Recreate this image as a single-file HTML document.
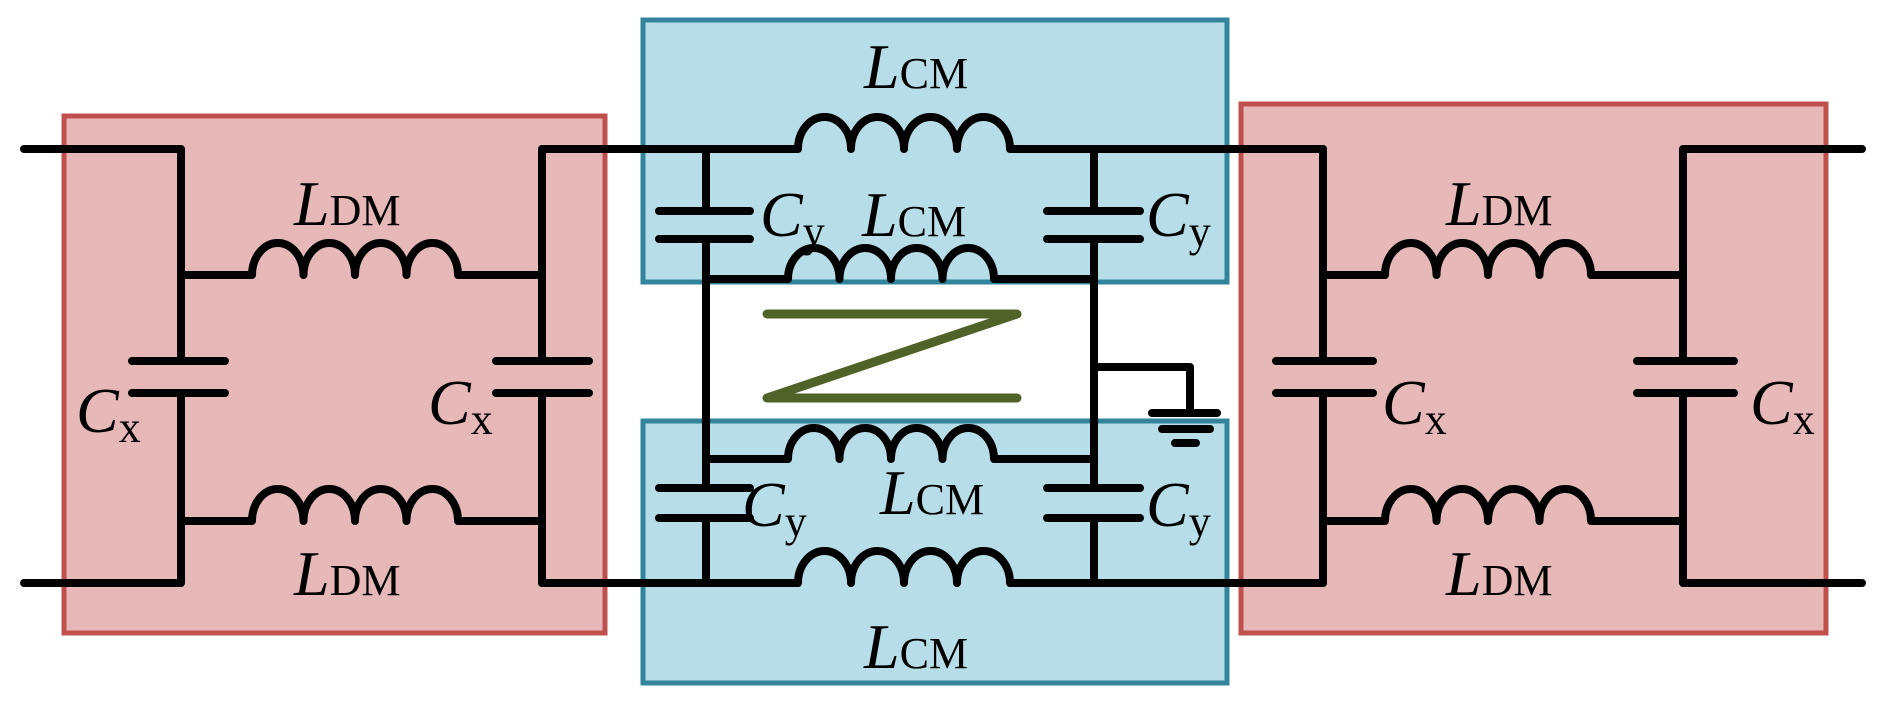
<!DOCTYPE html>
<html><head><meta charset="utf-8"><style>html,body{margin:0;padding:0;background:#fff;}svg{display:block}</style></head>
<body>
<svg width="1889" height="710" viewBox="0 0 1889 710" xmlns="http://www.w3.org/2000/svg">
<defs>
<style>
.w{stroke:#000;stroke-width:8;fill:none;stroke-linecap:round;stroke-linejoin:round}
.t{font-family:"Liberation Serif",serif;font-style:italic;font-size:64px;fill:#000}
.s{font-style:normal;font-size:44px}
</style>
</defs>
<rect x="64" y="116" width="541" height="517" fill="#e6b8b7" stroke="#c0504d" stroke-width="5"/>
<rect x="1241" y="104" width="585" height="529" fill="#e6b8b7" stroke="#c0504d" stroke-width="5"/>
<rect x="643" y="20" width="584" height="262" fill="#b7dee8" stroke="#31849b" stroke-width="5"/>
<rect x="643" y="421" width="584" height="262" fill="#b7dee8" stroke="#31849b" stroke-width="5"/>

<!-- left DM section -->
<path class="w" d="M24 149H181V361M181 393V583H24"/>
<path class="w" d="M181 275H252 a25.75 32 0 0 1 51.5 0 a25.75 32 0 0 1 51.5 0 a25.75 32 0 0 1 51.5 0 a25.75 32 0 0 1 51.5 0 H542"/>
<path class="w" d="M181 521H252 a25.75 32 0 0 1 51.5 0 a25.75 32 0 0 1 51.5 0 a25.75 32 0 0 1 51.5 0 a25.75 32 0 0 1 51.5 0 H542"/>
<path class="w" d="M132 361H225M132 393H225"/>
<path class="w" d="M542 149V361M542 393V583"/>
<path class="w" d="M496 361H589M496 393H589"/>

<!-- top wire & CM -->
<path class="w" d="M542 149H798 a26.5 32 0 0 1 53 0 a26.5 32 0 0 1 53 0 a26.5 32 0 0 1 53 0 a26.5 32 0 0 1 53 0 H1323"/>
<path class="w" d="M542 583H798 a26.5 32 0 0 1 53 0 a26.5 32 0 0 1 53 0 a26.5 32 0 0 1 53 0 a26.5 32 0 0 1 53 0 H1323"/>
<path class="w" d="M706 279H788 a25.75 31 0 0 1 51.5 0 a25.75 31 0 0 1 51.5 0 a25.75 31 0 0 1 51.5 0 a25.75 31 0 0 1 51.5 0 H1094"/>
<path class="w" d="M706 459H788 a25.75 31 0 0 1 51.5 0 a25.75 31 0 0 1 51.5 0 a25.75 31 0 0 1 51.5 0 a25.75 31 0 0 1 51.5 0 H1094"/>
<path class="w" d="M706 149V211M706 239V488M706 518V583"/>
<path class="w" d="M1094 149V211M1094 239V488M1094 518V583"/>
<path class="w" d="M659 211H750M659 239H750M659 488H750M659 518H750"/>
<path class="w" d="M1047 211H1140M1047 239H1140M1047 488H1140M1047 518H1140"/>
<!-- ground -->
<path class="w" d="M1094 367H1190V413M1152 413H1217M1162 429H1210M1175 443H1196"/>
<!-- Z -->
<path d="M767 314H1017L767 398H1017" fill="none" stroke="#4f6228" stroke-width="9" stroke-linecap="round" stroke-linejoin="round"/>

<!-- right DM section -->
<path class="w" d="M1323 149V361M1323 393V583"/>
<path class="w" d="M1276 361H1373M1276 393H1373"/>
<path class="w" d="M1323 275H1385 a25.75 32 0 0 1 51.5 0 a25.75 32 0 0 1 51.5 0 a25.75 32 0 0 1 51.5 0 a25.75 32 0 0 1 51.5 0 H1683"/>
<path class="w" d="M1323 521H1385 a25.75 32 0 0 1 51.5 0 a25.75 32 0 0 1 51.5 0 a25.75 32 0 0 1 51.5 0 a25.75 32 0 0 1 51.5 0 H1683"/>
<path class="w" d="M1862 149H1683V361M1683 393V583H1862"/>
<path class="w" d="M1637 361H1734M1637 393H1734"/>

<!-- labels -->
<text class="t" x="294" y="225">L<tspan class="s">DM</tspan></text>
<text class="t" x="294" y="595">L<tspan class="s">DM</tspan></text>
<text class="t" x="1446" y="225">L<tspan class="s">DM</tspan></text>
<text class="t" x="1446" y="595">L<tspan class="s">DM</tspan></text>
<text class="t" x="76" y="432">C<tspan class="s" dy="10">x</tspan></text>
<text class="t" x="428" y="424">C<tspan class="s" dy="10">x</tspan></text>
<text class="t" x="1382" y="424">C<tspan class="s" dy="10">x</tspan></text>
<text class="t" x="1750" y="424">C<tspan class="s" dy="10">x</tspan></text>
<text class="t" x="864" y="88">L<tspan class="s">CM</tspan></text>
<text class="t" x="862" y="236">L<tspan class="s">CM</tspan></text>
<text class="t" x="880" y="514">L<tspan class="s">CM</tspan></text>
<text class="t" x="864" y="668">L<tspan class="s">CM</tspan></text>
<text class="t" x="760" y="236">C<tspan class="s" dy="10">y</tspan></text>
<text class="t" x="1146" y="236">C<tspan class="s" dy="10">y</tspan></text>
<text class="t" x="742" y="526">C<tspan class="s" dy="10">y</tspan></text>
<text class="t" x="1146" y="526">C<tspan class="s" dy="10">y</tspan></text>
</svg>
</body></html>
